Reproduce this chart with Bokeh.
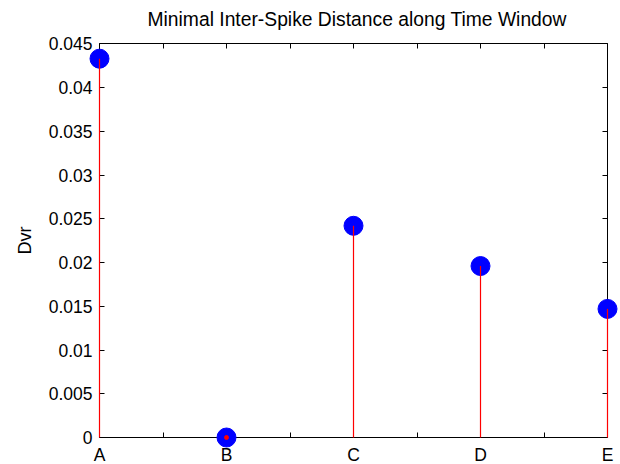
from bokeh.plotting import figure
from bokeh.models import Range1d, LinearAxis, FixedTicker
from bokeh.embed import file_html
from bokeh.resources import INLINE

# ---- data ----
categories = ["A", "B", "C", "D", "E"]
positions = [1, 2, 3, 4, 5]
dvr_values = [0.0433, 0.0, 0.0242, 0.0196, 0.0147]
x_ticks = [1, 1.5, 2, 2.5, 3, 3.5, 4, 4.5, 5]
y_ticks = [0, 0.005, 0.01, 0.015, 0.02, 0.025, 0.03, 0.035, 0.04, 0.045]
y_tick_labels = ["0", "0.005", "0.01", "0.015", "0.02", "0.025", "0.03", "0.035", "0.04", "0.045"]
title_text = "Minimal Inter-Spike Distance along Time Window"
y_label = "Dvr"

FONT = "Liberation Sans"
TICK_SIZE = "17.5px"

p = figure(width=620, height=464, output_backend="svg", toolbar_location=None,
           x_range=Range1d(0.22047, 5.10236), y_range=Range1d(-0.003085, 0.046406),
           min_border_left=0, min_border_right=0, min_border_top=31, min_border_bottom=0,
           x_axis_location=None, y_axis_location=None)
p.outline_line_color = None
p.grid.visible = False
p.background_fill_color = "white"
p.border_fill_color = "white"

p.title.text = title_text
p.title.align = "left"
p.title.offset = 147
p.title.text_font = FONT
p.title.text_font_size = "19.3px"
p.title.text_font_style = "normal"
p.title.text_color = "black"
p.title.standoff = 4

x_over = {pos: c for pos, c in zip(positions, categories)}
y_over = {t: l for t, l in zip(y_ticks, y_tick_labels)}

def style(ax, labels=True):
    ax.level = "underlay"
    ax.axis_line_color = "black"
    ax.axis_line_width = 1
    ax.major_tick_line_color = "black"
    ax.major_tick_in = 5
    ax.major_tick_out = 0
    ax.minor_tick_line_color = None
    ax.major_label_text_font = FONT
    ax.major_label_text_font_size = TICK_SIZE
    ax.major_label_text_color = "black"
    ax.axis_label_text_font = FONT
    ax.axis_label_text_font_size = "18px"
    ax.axis_label_text_font_style = "normal"
    ax.axis_label_text_color = "black"
    if not labels:
        ax.major_label_text_font_size = "0px"
        ax.major_label_text_color = None

# bottom: tick marks / line
xb = LinearAxis(ticker=FixedTicker(ticks=x_ticks), fixed_location=0, bounds=(1, 5))
style(xb, labels=False)
p.add_layout(xb, "below")
# bottom: category labels
xbl = LinearAxis(ticker=FixedTicker(ticks=positions), major_label_overrides=x_over,
                 fixed_location=0, bounds=(1, 5))
style(xbl)
xbl.axis_line_color = None
xbl.major_tick_line_color = None
xbl.major_label_standoff = 7
p.add_layout(xbl, "below")

xt = LinearAxis(ticker=FixedTicker(ticks=x_ticks), fixed_location=0.045, bounds=(1, 5))
style(xt, labels=False)
p.add_layout(xt, "above")

yl = LinearAxis(ticker=FixedTicker(ticks=y_ticks), major_label_overrides=y_over,
                fixed_location=1, bounds=(0, 0.045), axis_label=y_label)
style(yl)
yl.major_label_standoff = 7
yl.axis_label_standoff = 11
p.add_layout(yl, "left")

yr = LinearAxis(ticker=FixedTicker(ticks=y_ticks), fixed_location=5, bounds=(0, 0.045))
style(yr, labels=False)
p.add_layout(yr, "right")

zeros = [0.0] * len(positions)
c = p.scatter(positions, dvr_values, size=19, marker="circle",
              fill_color="#0000FF", line_color="#0000FF")
s = p.segment(x0=positions, y0=zeros, x1=positions, y1=dvr_values,
              line_color="#FF0000", line_width=1.2)
zero_pos = [x for x, v in zip(positions, dvr_values) if v == 0]
zero_val = [v for v in dvr_values if v == 0]
d = p.scatter(zero_pos, zero_val, size=4, marker="circle",
              fill_color="#FF0000", line_color="#FF0000")

open("out.html", "w").write(file_html(p, INLINE))
